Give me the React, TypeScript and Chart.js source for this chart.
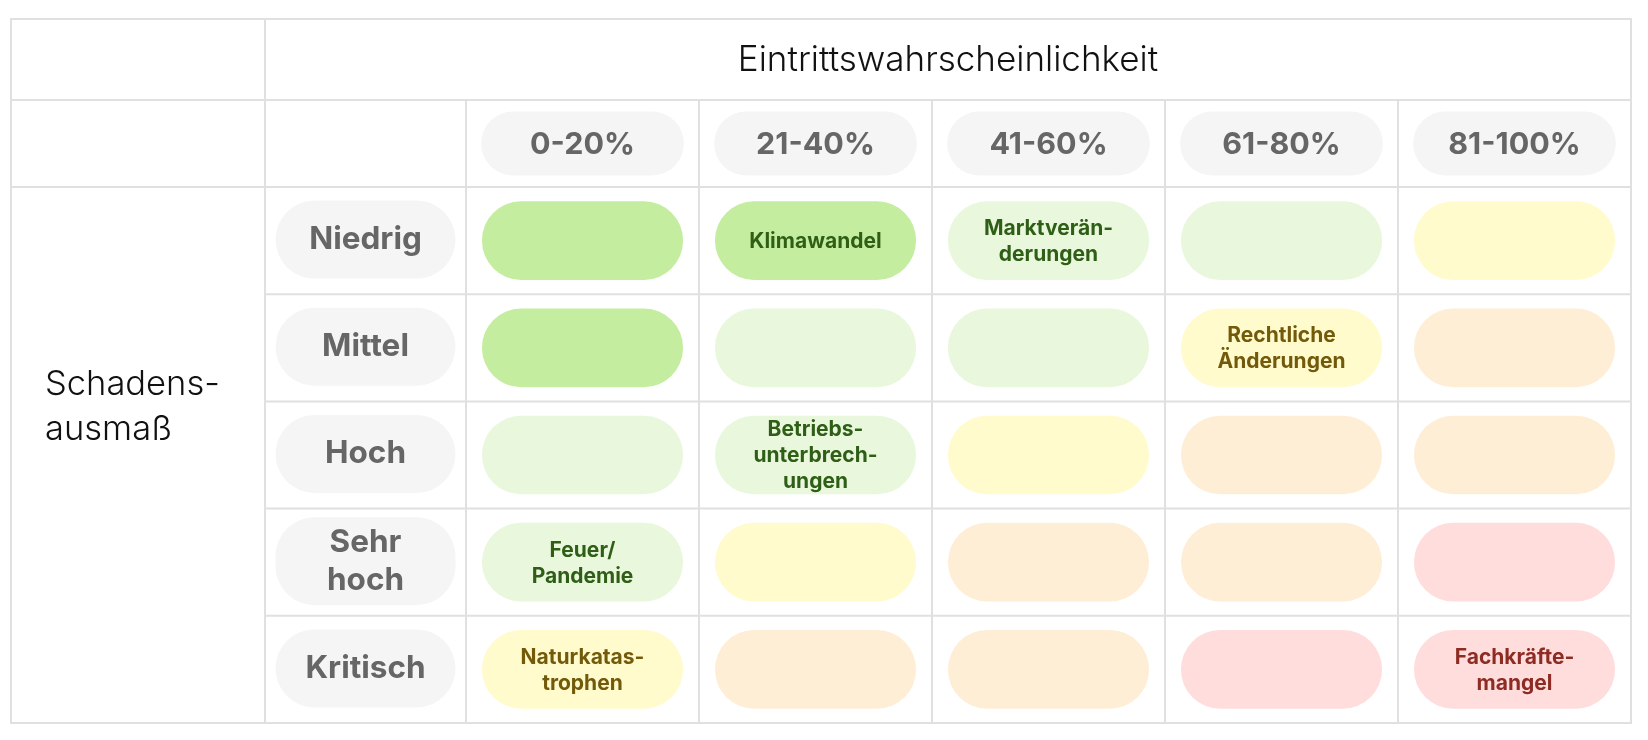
import React, { useEffect, useRef } from 'react';
import { Chart, registerables } from 'chart.js';

Chart.register(...registerables);

// ---------- data ----------
const titleProbability = 'Eintrittswahrscheinlichkeit';
const titleSeverity = ['Schadens-', 'ausmaß'];

const probabilityLabels = ['0-20%', '21-40%', '41-60%', '61-80%', '81-100%'];
const severityLabels = ['Niedrig', 'Mittel', 'Hoch', 'Sehr hoch', 'Kritisch'];
const severityLines = [['Niedrig'], ['Mittel'], ['Hoch'], ['Sehr', 'hoch'], ['Kritisch']];

// risk level (1 = lowest … 5 = highest) per severity row, columns = probability
const levelNiedrig = [1, 1, 2, 2, 3];
const levelMittel = [1, 2, 2, 3, 4];
const levelHoch = [2, 2, 3, 4, 4];
const levelSehrHoch = [2, 3, 4, 4, 5];
const levelKritisch = [3, 4, 4, 5, 5];
const riskLevels = [levelNiedrig, levelMittel, levelHoch, levelSehrHoch, levelKritisch];

// named risks placed in the matrix
const riskNames = [
  ['Klimawandel'],
  ['Marktverän-', 'derungen'],
  ['Rechtliche', 'Änderungen'],
  ['Betriebs-', 'unterbrech-', 'ungen'],
  ['Feuer/', 'Pandemie'],
  ['Naturkatas-', 'trophen'],
  ['Fachkräfte-', 'mangel'],
];
const riskSeverity = ['Niedrig', 'Niedrig', 'Mittel', 'Hoch', 'Sehr hoch', 'Kritisch', 'Kritisch'];
const riskProbability = ['21-40%', '41-60%', '61-80%', '21-40%', '0-20%', '0-20%', '81-100%'];

// ---------- styles ----------
const levelFill = ['#c5eda0', '#e9f7dc', '#fffbcc', '#ffeed6', '#ffdddc'];
const levelInk = ['#2f5f17', '#2f5f17', '#735a0a', '#8a4a12', '#8e2b23'];
const GRID = '#e0e0e0';
const PILL_GRAY = '#f5f5f5';
const LABEL_GRAY = '#666666';
const FONT = 'Inter, "Noto Sans", sans-serif';

const TITLE_H = 81;
const HEADER_H = 87;
const ROW_LABEL_W = 201;
const GROUP_W = 254;
const CELL_HALF = 0.43;

const tablePlugin = {
  id: 'riskTable',
  beforeDatasetsDraw(chart: any) {
    const { ctx, chartArea: ca, scales } = chart;
    const x = scales.x;
    const y = scales.y;
    const rowH = (ca.bottom - ca.top) / severityLabels.length;
    const labelColX = ca.left - ROW_LABEL_W;
    const tableLeft = labelColX - GROUP_W;
    const headerTop = ca.top - HEADER_H;
    const tableTop = headerTop - TITLE_H;

    ctx.save();
    ctx.strokeStyle = GRID;
    ctx.lineWidth = 2;
    const line = (x1: number, y1: number, x2: number, y2: number) => {
      ctx.beginPath();
      ctx.moveTo(x1, y1);
      ctx.lineTo(x2, y2);
      ctx.stroke();
    };
    [tableTop, headerTop, ca.top, ca.bottom].forEach((yy) => line(tableLeft - 1, yy, ca.right + 1, yy));
    for (let r = 1; r < severityLabels.length; r++) {
      const yy = y.getPixelForValue(r) - rowH / 2;
      line(labelColX, yy, ca.right, yy);
    }
    line(tableLeft, tableTop, tableLeft, ca.bottom);
    line(labelColX, tableTop, labelColX, ca.bottom);
    line(ca.right, tableTop, ca.right, ca.bottom);
    for (let c = 0; c < probabilityLabels.length; c++) {
      const xx = x.getPixelForValue(c - 0.5);
      line(xx, headerTop, xx, ca.bottom);
    }

    // title row
    ctx.fillStyle = '#111111';
    ctx.font = `300 35px ${FONT}`;
    ctx.textAlign = 'center';
    ctx.textBaseline = 'middle';
    ctx.fillText(titleProbability, (labelColX + ca.right) / 2, (tableTop + headerTop) / 2 + 1);

    // severity group title
    ctx.font = `300 34.5px ${FONT}`;
    ctx.textAlign = 'left';
    ctx.textBaseline = 'alphabetic';
    const base = ca.top + 208;
    titleSeverity.forEach((t, i) => ctx.fillText(t, tableLeft + 34, base + i * 45));

    // probability header pills
    const headerCy = (headerTop + ca.top) / 2;
    probabilityLabels.forEach((lab, c) => {
      const x1 = x.getPixelForValue(c - 0.435);
      const x2 = x.getPixelForValue(c + 0.435);
      ctx.fillStyle = PILL_GRAY;
      ctx.beginPath();
      ctx.roundRect(x1, headerCy - 32, x2 - x1, 64, 32);
      ctx.fill();
      ctx.fillStyle = LABEL_GRAY;
      ctx.font = `700 30.5px ${FONT}`;
      ctx.textAlign = 'center';
      ctx.textBaseline = 'middle';
      ctx.fillText(lab, (x1 + x2) / 2, headerCy + 1);
    });

    // severity row pills
    const labelCx = (labelColX + ca.left) / 2;
    severityLabels.forEach((lab, r) => {
      const cy = y.getPixelForValue(r);
      const lines = severityLines[r];
      const h = lines.length > 1 ? 88 : 78;
      const w = ROW_LABEL_W - 21;
      ctx.fillStyle = PILL_GRAY;
      ctx.beginPath();
      ctx.roundRect(labelCx - w / 2, cy - h / 2 - 1, w, h, 39);
      ctx.fill();
      ctx.fillStyle = LABEL_GRAY;
      ctx.font = `700 31.5px ${FONT}`;
      ctx.textAlign = 'center';
      ctx.textBaseline = 'middle';
      lines.forEach((t, k) => ctx.fillText(t, labelCx, cy - 1 + (k - (lines.length - 1) / 2) * 38));
    });
    ctx.restore();
  },
  afterDatasetsDraw(chart: any) {
    const { ctx, scales } = chart;
    const x = scales.x;
    const y = scales.y;
    ctx.save();
    ctx.font = `700 21px ${FONT}`;
    ctx.textAlign = 'center';
    ctx.textBaseline = 'middle';
    riskNames.forEach((lines, i) => {
      const r = severityLabels.indexOf(riskSeverity[i]);
      const c = probabilityLabels.indexOf(riskProbability[i]);
      const lvl = riskLevels[r][c];
      const cx = x.getPixelForValue(c);
      const cy = y.getPixelForValue(r);
      ctx.fillStyle = levelInk[lvl - 1];
      lines.forEach((t, k) => ctx.fillText(t, cx, cy + 1 + (k - (lines.length - 1) / 2) * 26));
    });
    ctx.restore();
  },
};

export default function App() {
  const ref = useRef<HTMLCanvasElement>(null);
  useEffect(() => {
    const datasets = probabilityLabels.map((lab, c) => ({
      label: lab,
      data: severityLabels.map(() => [c - CELL_HALF, c + CELL_HALF]),
      backgroundColor: severityLabels.map((_, r) => levelFill[riskLevels[r][c] - 1]),
      borderWidth: 0,
      borderRadius: 39,
      borderSkipped: false,
      barThickness: 78,
      grouped: false,
    }));
    const chart = new Chart(ref.current as HTMLCanvasElement, {
      type: 'bar',
      data: { labels: severityLabels, datasets: datasets as any },
      options: {
        indexAxis: 'y',
        animation: false,
        responsive: true,
        maintainAspectRatio: false,
        layout: { padding: { left: 458, top: 179, right: 9, bottom: 9 } },
        scales: {
          x: { type: 'linear', min: -0.5, max: 4.5, display: false },
          y: { type: 'category', display: false, offset: true },
        },
        plugins: { legend: { display: false }, tooltip: { enabled: false } },
      } as any,
      plugins: [tablePlugin],
    });
    return () => chart.destroy();
  }, []);
  return (
    <div style={{ position: 'relative', width: 1632, height: 724 }}>
      <canvas ref={ref} />
    </div>
  );
}
